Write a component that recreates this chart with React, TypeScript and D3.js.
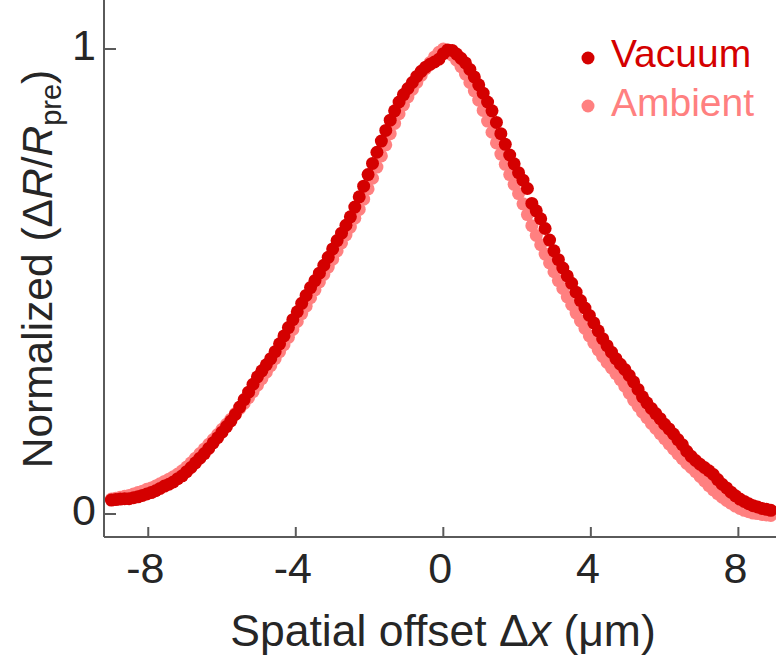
import React from "react";
import * as d3 from "d3";

// Spatial offset grid (µm)
const offsets = [
  -9.0, -8.88, -8.76, -8.64, -8.52, -8.4, -8.28, -8.16, -8.04, -7.92, -7.8, -7.68, -7.56, -7.44, -7.32, -7.2, -7.08, -6.96, -6.84, -6.72,
  -6.6, -6.48, -6.36, -6.24, -6.12, -6.0, -5.88, -5.76, -5.64, -5.52, -5.4, -5.28, -5.16, -5.04, -4.92, -4.8, -4.68, -4.56, -4.44, -4.32,
  -4.2, -4.08, -3.96, -3.84, -3.72, -3.6, -3.48, -3.36, -3.24, -3.12, -3.0, -2.88, -2.76, -2.64, -2.52, -2.4, -2.28, -2.16, -2.04, -1.92,
  -1.8, -1.68, -1.56, -1.44, -1.32, -1.2, -1.08, -0.96, -0.84, -0.72, -0.6, -0.48, -0.36, -0.24, -0.12, 0.0, 0.12, 0.24, 0.36, 0.48,
  0.6, 0.72, 0.84, 0.96, 1.08, 1.2, 1.32, 1.44, 1.56, 1.68, 1.8, 1.92, 2.04, 2.16, 2.28, 2.4, 2.52, 2.64, 2.76, 2.88,
  3.0, 3.12, 3.24, 3.36, 3.48, 3.6, 3.72, 3.84, 3.96, 4.08, 4.2, 4.32, 4.44, 4.56, 4.68, 4.8, 4.92, 5.04, 5.16, 5.28,
  5.4, 5.52, 5.64, 5.76, 5.88, 6.0, 6.12, 6.24, 6.36, 6.48, 6.6, 6.72, 6.84, 6.96, 7.08, 7.2, 7.32, 7.44, 7.56, 7.68,
  7.8, 7.92, 8.04, 8.16, 8.28, 8.4, 8.52, 8.64, 8.76, 8.88,
];

const vacuum = [
  0.030, 0.031, 0.032, 0.033, 0.033, 0.035, 0.037, 0.040, 0.043, 0.046, 0.050, 0.055, 0.060, 0.064, 0.069, 0.076, 0.082, 0.091, 0.100, 0.110,
  0.120, 0.130, 0.141, 0.153, 0.164, 0.176, 0.188, 0.200, 0.214, 0.230, 0.246, 0.262, 0.279, 0.295, 0.308, 0.321, 0.334, 0.349, 0.366, 0.383,
  0.401, 0.418, 0.435, 0.453, 0.470, 0.487, 0.502, 0.518, 0.535, 0.552, 0.570, 0.588, 0.604, 0.621, 0.639, 0.660, 0.682, 0.705, 0.730, 0.754,
  0.778, 0.802, 0.825, 0.847, 0.867, 0.886, 0.902, 0.915, 0.928, 0.941, 0.952, 0.961, 0.967, 0.972, 0.978, 0.990, 0.998, 0.997, 0.989, 0.980,
  0.970, 0.956, 0.940, 0.923, 0.905, 0.886, 0.867, 0.842, 0.818, 0.795, 0.772, 0.753, 0.734, 0.718, 0.700, 0.668, 0.652, 0.635, 0.614, 0.589,
  0.566, 0.547, 0.529, 0.512, 0.496, 0.477, 0.459, 0.443, 0.427, 0.411, 0.394, 0.377, 0.362, 0.348, 0.334, 0.322, 0.311, 0.298, 0.284, 0.268,
  0.252, 0.239, 0.227, 0.216, 0.205, 0.193, 0.183, 0.172, 0.160, 0.149, 0.135, 0.124, 0.115, 0.107, 0.100, 0.093, 0.085, 0.074, 0.064, 0.056,
  0.047, 0.039, 0.032, 0.027, 0.022, 0.018, 0.015, 0.012, 0.010, 0.008,
];

const ambient = [
  0.032, 0.034, 0.036, 0.038, 0.040, 0.043, 0.046, 0.049, 0.053, 0.056, 0.060, 0.065, 0.070, 0.075, 0.080, 0.086, 0.093, 0.101, 0.110, 0.120,
  0.130, 0.140, 0.150, 0.160, 0.171, 0.182, 0.193, 0.204, 0.216, 0.227, 0.238, 0.250, 0.263, 0.277, 0.291, 0.305, 0.319, 0.334, 0.349, 0.364,
  0.380, 0.397, 0.414, 0.431, 0.447, 0.465, 0.482, 0.499, 0.515, 0.531, 0.548, 0.566, 0.583, 0.600, 0.617, 0.636, 0.655, 0.677, 0.699, 0.722,
  0.746, 0.770, 0.794, 0.818, 0.840, 0.861, 0.880, 0.897, 0.913, 0.928, 0.943, 0.958, 0.971, 0.983, 0.993, 1.000, 0.996, 0.987, 0.976, 0.962,
  0.946, 0.928, 0.910, 0.890, 0.868, 0.845, 0.821, 0.798, 0.774, 0.752, 0.730, 0.709, 0.689, 0.667, 0.644, 0.620, 0.599, 0.579, 0.559, 0.540,
  0.521, 0.502, 0.485, 0.467, 0.450, 0.432, 0.415, 0.399, 0.383, 0.368, 0.353, 0.339, 0.326, 0.314, 0.302, 0.289, 0.275, 0.260, 0.245, 0.232,
  0.219, 0.207, 0.195, 0.184, 0.173, 0.162, 0.151, 0.140, 0.129, 0.119, 0.109, 0.100, 0.091, 0.081, 0.071, 0.061, 0.052, 0.044, 0.036, 0.029,
  0.023, 0.017, 0.012, 0.008, 0.005, 0.002, 0.001, -0.001, -0.002, -0.003,
];

const xTicks = [-8, -4, 0, 4, 8];
const yTicks = [0, 1];
const seriesNames = ["Vacuum", "Ambient"];
const seriesColors = ["#d40000", "#ff8080"];

const W = 776;
const H = 664;
const FONT = "'Liberation Sans', Arial, Helvetica, sans-serif";
const AXIS = "#5a5a5a";
const TEXT = "#262626";

export default function App() {
  const x = d3.scaleLinear().domain([-9.2, 9.02]).range([104, 776]);
  const y = d3.scaleLinear().domain([0, 1]).range([514, 49]);
  const axisY = 537;
  const axisX = 104;

  const amb = offsets.map((o, i) => ({ o, v: ambient[i] }));
  const vac = offsets.map((o, i) => ({ o, v: vacuum[i] }));

  return (
    <svg
      width={W}
      height={H}
      style={{ position: "absolute", left: 0, top: 0, display: "block", background: "#fff" }}
      fontFamily={FONT}
    >
      <g>
        {amb.map((d, i) => (
          <circle key={"a" + i} cx={x(d.o)} cy={y(d.v)} r={6.5} fill={seriesColors[1]} />
        ))}
        {vac.map((d, i) => (
          <circle key={"v" + i} cx={x(d.o)} cy={y(d.v)} r={6.5} fill={seriesColors[0]} />
        ))}
      </g>

      {/* axes */}
      <line x1={axisX} x2={W} y1={axisY} y2={axisY} stroke={AXIS} strokeWidth={2} />
      <line x1={axisX} x2={axisX} y1={0} y2={axisY} stroke={AXIS} strokeWidth={2} />
      {xTicks.map((t) => (
        <g key={"xt" + t}>
          <line x1={x(t)} x2={x(t)} y1={axisY} y2={axisY - 10} stroke={AXIS} strokeWidth={2} />
          <text x={x(t) - 3} y={583} textAnchor="middle" fontSize={43} fill={TEXT}>
            {t < 0 ? "-" + Math.abs(t) : String(t)}
          </text>
        </g>
      ))}
      {yTicks.map((t) => (
        <g key={"yt" + t}>
          <line x1={axisX} x2={axisX + 12} y1={y(t)} y2={y(t)} stroke={AXIS} strokeWidth={2} />
          <text x={96} y={y(t) + 11} textAnchor="end" fontSize={43} fill={TEXT}>
            {String(t)}
          </text>
        </g>
      ))}

      {/* x title */}
      <text x={443} y={646} textAnchor="middle" fontSize={44.5} fill={TEXT}>
        <tspan>Spatial offset Δ</tspan>
        <tspan fontStyle="italic">x</tspan>
        <tspan> (μm)</tspan>
      </text>

      {/* y title */}
      <text transform={`translate(52,269) rotate(-90)`} textAnchor="middle" fontSize={42.5} fill={TEXT}>
        <tspan>Normalized (Δ</tspan>
        <tspan fontStyle="italic">R</tspan>
        <tspan>/</tspan>
        <tspan fontStyle="italic">R</tspan>
        <tspan fontSize={29} dy={9}>pre</tspan>
        <tspan dy={-9}>)</tspan>
      </text>

      {/* legend */}
      {seriesNames.map((n, i) => (
        <g key={n}>
          <circle cx={588} cy={58 + i * 48} r={6.5} fill={seriesColors[i]} />
          <text x={611} y={67 + i * 49} fontSize={39} fill={seriesColors[i]}>
            {n}
          </text>
        </g>
      ))}
    </svg>
  );
}
